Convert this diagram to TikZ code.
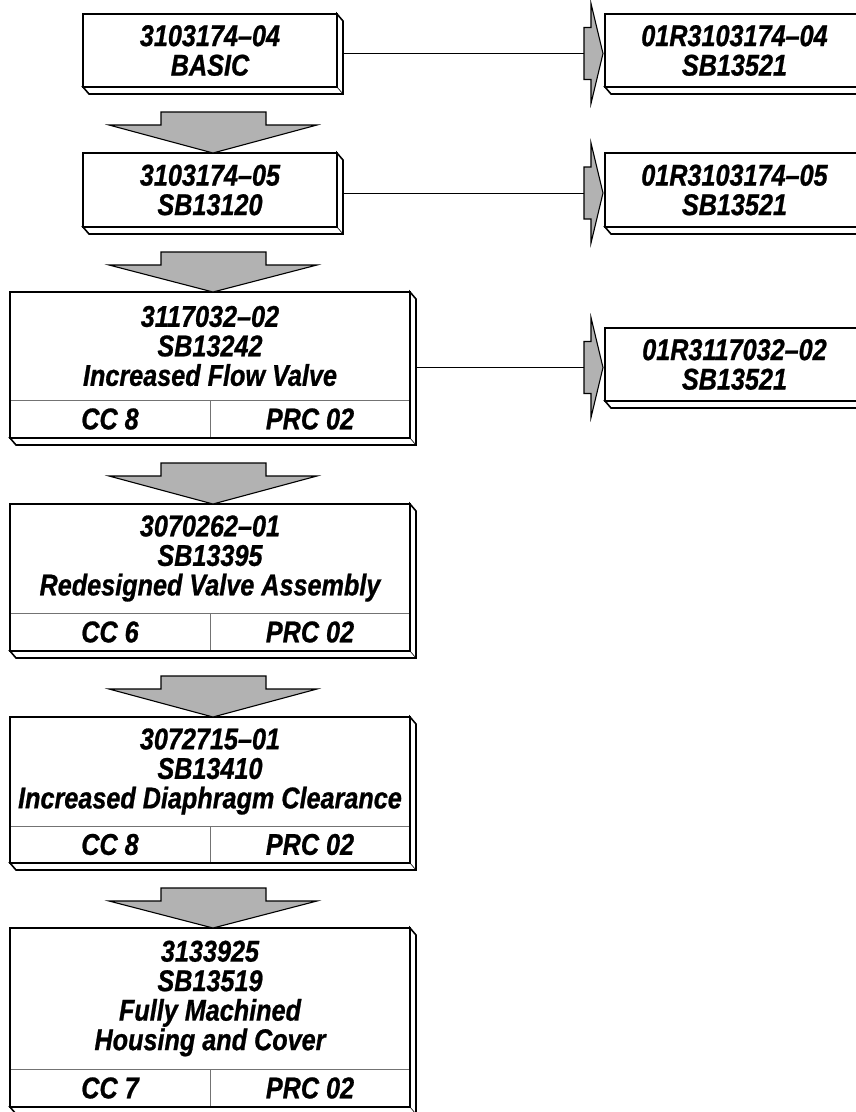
\documentclass[tikz,border=0pt]{standalone}
\usepackage{fontspec}
\setmainfont{Liberation Sans}[FakeStretch=0.84, BoldItalicFeatures={FakeBold=0.8}]
\usetikzlibrary{positioning,calc,fit}

\newcommand{\partfont}{\fontsize{30}{29.5}\selectfont\bfseries\itshape}

\tikzset{
    part/.style={draw, line width=1.1pt, inner sep=0pt, outer sep=0pt, align=center, font=\partfont},
    cell/.style={draw=black!55, line width=0.6pt, inner sep=0pt, outer sep=0pt, align=center, font=\partfont},
    frame/.style={draw, line width=1.1pt, inner sep=0pt, outer sep=0pt},
    bevelline/.style={line width=1.6pt, line join=miter, fill=white},
    fatarrow/.style={draw, line width=1.1pt, fill=black!30, line join=miter},
    link/.style={line width=0.9pt}
}

% 3D edge on the right and bottom of a box
\newcommand{\bevel}[1]{%
    \draw[bevelline] (#1.north east) -- ++(6,7) -- ($(#1.south east)+(6,7)$) -- ($(#1.south west)+(6,7)$) -- (#1.south west) -- (#1.south east) -- cycle;
    \draw[line width=0.6pt] (#1.south east) -- ++(6,7);
}
% big gray arrow from one box down to the next
\newcommand{\fatdown}[2]{%
    \draw[fatarrow] ($(#1.south)+(-49,25)$) -- ($(#1.south)+(56,25)$) -- ($(#1.south)+(56,38)$) -- ($(#1.south)+(107,38)$)
        -- ($(#2.north)+(3,0)$) -- ($(#1.south)+(-101,38)$) -- ($(#1.south)+(-49,38)$) -- cycle;
}
% line and small arrow from a box to its replacement on the right
\newcommand{\sidearrow}[2]{%
    \coordinate (#2in) at ($(#2.west)+(-21,3)$);
    \draw[link] ($(#1.east |- #2in)+(6,0)$) -- (#2in);
    \draw[fatarrow] (#2in) -- ++(0,-26) -- ++(7,0) -- ++(0,-24) -- ($(#2.west)+(-2,3)$)
        -- ($(#2.west)+(-14,53)$) -- ++(0,-24) -- ++(-7,0) -- cycle;
}

\begin{document}
\begin{tikzpicture}[x=1pt, y=-1pt]
    \useasboundingbox (0,0) rectangle (856,1112);

    % left column
    \node[part, anchor=north west, minimum width=254, minimum height=73] (box1) at (83,14) {3103174--04\\BASIC};
    \node[part, anchor=north west, minimum width=254, minimum height=74] (box2) at (83,153) {3103174--05\\SB13120};

    \node[cell, anchor=north west, minimum width=400, minimum height=108] (box3t) at (10,292) {3117032--02\\SB13242\\Increased Flow Valve};
    \node[cell, anchor=north west, minimum width=200, minimum height=38] (box3cc) at (box3t.south west) {CC 8};
    \node[cell, anchor=north west, minimum width=200, minimum height=38] (box3prc) at (box3cc.north east) {PRC 02};
    \node[frame, fit=(box3t)(box3cc)(box3prc)] (box3) {};

    \node[cell, anchor=north west, minimum width=400, minimum height=109] (box4t) at (10,504) {3070262--01\\SB13395\\Redesigned Valve Assembly};
    \node[cell, anchor=north west, minimum width=200, minimum height=38] (box4cc) at (box4t.south west) {CC 6};
    \node[cell, anchor=north west, minimum width=200, minimum height=38] (box4prc) at (box4cc.north east) {PRC 02};
    \node[frame, fit=(box4t)(box4cc)(box4prc)] (box4) {};

    \node[cell, anchor=north west, minimum width=400, minimum height=109] (box5t) at (10,717) {3072715--01\\SB13410\\Increased Diaphragm Clearance};
    \node[cell, anchor=north west, minimum width=200, minimum height=37] (box5cc) at (box5t.south west) {CC 8};
    \node[cell, anchor=north west, minimum width=200, minimum height=37] (box5prc) at (box5cc.north east) {PRC 02};
    \node[frame, fit=(box5t)(box5cc)(box5prc)] (box5) {};

    \node[cell, anchor=north west, minimum width=400, minimum height=141] (box6t) at (10,928) {3133925\\SB13519\\Fully Machined\\Housing and Cover};
    \node[cell, anchor=north west, minimum width=200, minimum height=38] (box6cc) at (box6t.south west) {CC 7};
    \node[cell, anchor=north west, minimum width=200, minimum height=38] (box6prc) at (box6cc.north east) {PRC 02};
    \node[frame, fit=(box6t)(box6cc)(box6prc)] (box6) {};

    % right column
    \node[part, anchor=north west, minimum width=259, minimum height=73] (rbox1) at (605,14) {01R3103174--04\\SB13521};
    \node[part, anchor=north west, minimum width=259, minimum height=74] (rbox2) at (605,153) {01R3103174--05\\SB13521};
    \node[part, anchor=north west, minimum width=259, minimum height=73] (rbox3) at (605,328) {01R3117032--02\\SB13521};

    \foreach \n in {box1, box2, box3, box4, box5, box6, rbox1, rbox2, rbox3} {
        \bevel{\n}
    }
    \foreach \a/\b in {box1/box2, box2/box3, box3/box4, box4/box5, box5/box6} {
        \fatdown{\a}{\b}
    }
    \foreach \l/\r in {box1/rbox1, box2/rbox2, box3/rbox3} {
        \sidearrow{\l}{\r}
    }
\end{tikzpicture}
\end{document}
